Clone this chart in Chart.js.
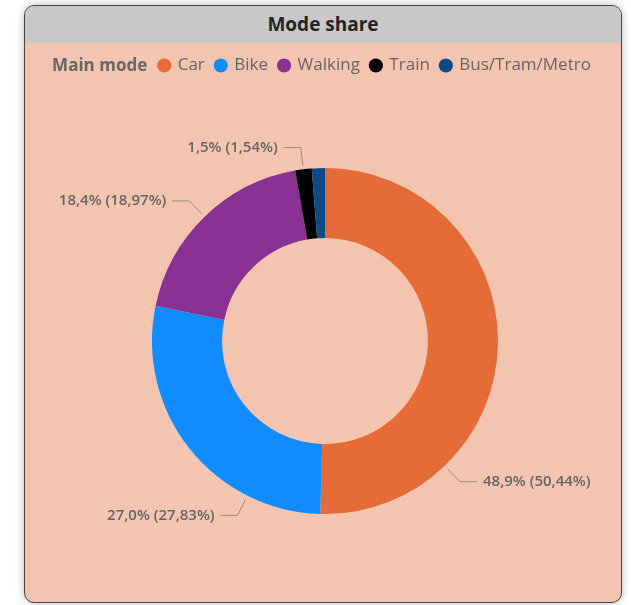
<!DOCTYPE html>
<html>
<head>
<meta charset="utf-8">
<script src="https://cdn.jsdelivr.net/npm/chart.js@4.4.1/dist/chart.umd.min.js"></script>
<style>
  body { margin:0; width:631px; height:605px; background:#fff; overflow:hidden; font-family:"Open Sans", sans-serif; }
  .card { position:absolute; left:24px; top:5px; width:596px; height:596px; border:1.5px solid #444; border-radius:10px; background:#f3c4b0; overflow:hidden; box-shadow:0 0 8px rgba(0,0,0,0.28); }
  .head { height:37px; background:#c8c8c8; text-align:center; line-height:37px; font-weight:700; font-size:19px; color:#252423; }
  #wrap { position:absolute; left:25px; top:43px; width:597px; height:560px; }
</style>
</head>
<body>
<div class="card"><div class="head">Mode share</div></div>
<div id="wrap"><canvas id="c"></canvas></div>
<script>
// data
const modes = ['Car', 'Bike', 'Walking', 'Train', 'Bus/Tram/Metro'];
const modeShare = [48.9, 27.0, 18.4, 1.5, 1.2];          // first number in the label
const shareOfTotal = [50.44, 27.83, 18.97, 1.54, 1.22];  // percent of total (slice size)
const modeColors = ['#e66c37', '#118dff', '#8a3194', '#000000', '#0c4b87'];

// where on each slice the leader line starts (fraction of the arc), null = no label
const labelAt = [0.75, 0.25, 0.5, 0.5, null];

const legendFont = {family: '"Open Sans"', size: 17};
const legendTitleFont = '700 17px "Open Sans"';
const labelFont = '600 15px "Open Sans"';

function fmt(v, d) { return v.toFixed(d).replace('.', ','); }

const legendTitle = {
  id: 'legendTitle',
  afterLayout(chart) {
    let lg = chart.legend;
    let ctx = chart.ctx;
    ctx.save();
    ctx.font = legendTitleFont;
    let tw = ctx.measureText('Main mode').width;
    ctx.restore();
    let pad = lg.options.labels.padding;
    let itemsW = lg.lineWidths[0] - pad;
    let gap = 12;
    let total = tw + gap + itemsW;
    let groupLeft = chart.width / 2 - 2 - total / 2;
    let w = lg.width;
    lg.left = groupLeft + tw + gap - pad;
    lg.right = lg.left + w;
    lg._titleX = groupLeft;
  },
  afterDraw(chart) {
    let lg = chart.legend;
    let hb = lg.legendHitBoxes[0];
    let ctx = chart.ctx;
    ctx.save();
    ctx.font = legendTitleFont;
    ctx.fillStyle = '#666';
    ctx.textBaseline = 'middle';
    ctx.textAlign = 'left';
    ctx.fillText('Main mode', lg._titleX, hb.top + hb.height / 2 + 1);
    ctx.restore();
  }
};

const outsideLabels = {
  id: 'outsideLabels',
  afterDatasetsDraw(chart) {
    let ctx = chart.ctx;
    let arcs = chart.getDatasetMeta(0).data;
    ctx.save();
    ctx.font = labelFont;
    ctx.textBaseline = 'middle';
    arcs.forEach((arc, i) => {
      let f = labelAt[i];
      if (f == null) return;
      let p = arc.getProps(['x', 'y', 'startAngle', 'endAngle', 'outerRadius'], true);
      let a = p.startAngle + f * (p.endAngle - p.startAngle);
      let r1 = p.outerRadius + 4, r2 = p.outerRadius + 22;
      let x1 = p.x + Math.cos(a) * r1, y1 = p.y + Math.sin(a) * r1;
      let x2 = p.x + Math.cos(a) * r2, y2 = p.y + Math.sin(a) * r2;
      let right = x2 >= p.x;
      let x3 = x2 + (right ? 17 : -17);
      ctx.strokeStyle = 'rgba(110,110,110,0.65)';
      ctx.lineWidth = 1;
      ctx.beginPath();
      ctx.moveTo(x1, y1);
      ctx.lineTo(x2, y2);
      ctx.lineTo(x3, y2);
      ctx.stroke();
      ctx.fillStyle = '#666';
      ctx.textAlign = right ? 'left' : 'right';
      let txt = fmt(modeShare[i], 1) + '% (' + fmt(shareOfTotal[i], 2) + '%)';
      ctx.fillText(txt, x3 + (right ? 6 : -6), y2);
    });
    ctx.restore();
  }
};

new Chart(document.getElementById('c'), {
  type: 'doughnut',
  data: {
    labels: modes,
    datasets: [{
      data: shareOfTotal,
      backgroundColor: modeColors,
      borderWidth: 0,
      radius: 173,
      cutout: '59.5%'
    }]
  },
  options: {
    responsive: true,
    maintainAspectRatio: false,
    animation: false,
    layout: { padding: { top: 3, left: 3, right: 0, bottom: 5 } },
    plugins: {
      legend: {
        position: 'top',
        align: 'start',
        labels: {
          usePointStyle: true,
          pointStyle: 'circle',
          boxWidth: 10,
          boxHeight: 10,
          padding: 11,
          color: '#666',
          font: legendFont
        }
      },
      tooltip: { enabled: false }
    }
  },
  plugins: [legendTitle, outsideLabels]
});
</script>
</body>
</html>
